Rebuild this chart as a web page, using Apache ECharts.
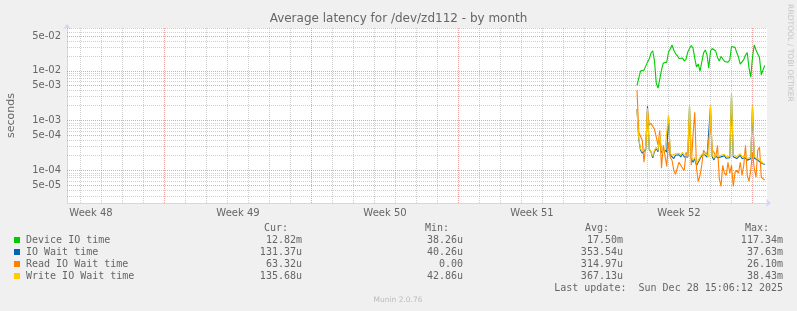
<!DOCTYPE html>
<html><head><meta charset="utf-8">
<script src="https://cdn.jsdelivr.net/npm/echarts@6/dist/echarts.min.js"></script>
<style>html,body{margin:0;padding:0;background:#f0f0f0}#c{width:797px;height:311px}</style>
</head><body><div id="c"></div>
<script>
const chartTitle = 'Average latency for /dev/zd112 - by month';
const seriesNames = ['Device IO time', 'IO Wait time', 'Read IO Wait time', 'Write IO Wait time'];
const seriesColors = ['#00cc00', '#0066b3', '#ff8000', '#ffcc00'];

// 2-hour samples starting Mon Dec 22 2025 12:00 (x axis in epoch ms)
const dataStart = Date.UTC(2025, 11, 22, 12, 0, 0);
const dataStepMs = 2 * 3600 * 1000;

const deviceIO = [5.07e-3,5.07e-3,9.85e-3,8.98e-3,1.03e-2,1.08e-2,1.49e-2,1.72e-2,2.27e-2,2.52e-2,
  1.565e-2,5.65e-3,4.48e-3,4.48e-3,1.03e-2,1.427e-2,1.46e-2,1.49e-2,2.38e-2,2.73e-2,
  3.29e-2,2.61e-2,2.22e-2,2.02e-2,1.76e-2,1.64e-2,1.80e-2,1.565e-2,1.72e-2,2.38e-2,
  2.80e-2,3.21e-2,2.86e-2,1.80e-2,1.185e-2,1.36e-2,9.85e-3,1.49e-2,2.27e-2,2.61e-2,
  2.10e-2,1.13e-2,2.49e-2,2.80e-2,2.93e-2,2.49e-2,1.84e-2,1.565e-2,1.95e-2,1.72e-2,
  1.54e-2,1.66e-2,1.49e-2,1.64e-2,3.07e-2,2.86e-2,2.95e-2,2.32e-2,1.88e-2,1.36e-2,
  1.49e-2,1.68e-2,2.07e-2,2.32e-2,1.13e-2,7.46e-3,1.88e-2,3.29e-2,2.61e-2,2.17e-2,
  1.84e-2,8.30e-3,8.07e-3,1.28e-2];

const ioWait = [1.69e-3,4.2e-4,2.55e-4,2.2e-4,2.05e-4,2.6e-4,1.94e-3,2.6e-4,2.35e-4,1.78e-4,
  2.4e-4,2.75e-4,2.35e-4,4.8e-4,2.3e-4,2.15e-4,2.55e-4,2.3e-4,1.2e-3,2.05e-4,
  1.87e-4,1.72e-4,2.0e-4,2.15e-4,2.05e-4,1.86e-4,2.15e-4,1.85e-4,1.78e-4,1.86e-4,
  1.9e-3,1.78e-4,1.45e-4,1.7e-4,1.25e-4,1.45e-4,1.7e-4,1.95e-4,2.15e-4,2.0e-4,
  1.83e-4,1.74e-4,1.9e-3,1.86e-4,1.62e-4,2.0e-4,1.78e-4,1.8e-4,1.86e-4,1.74e-4,
  1.95e-4,1.74e-4,1.6e-4,1.78e-4,3.3e-3,1.86e-4,2.0e-4,1.72e-4,1.86e-4,2.0e-4,
  1.72e-4,1.6e-4,1.78e-4,1.6e-4,1.46e-4,1.7e-4,1.9e-3,1.74e-4,1.82e-4,1.6e-4,
  1.55e-4,1.4e-4,1.28e-4,1.31e-4];

const readWait = [4.08e-3,5.82e-4,5.31e-4,4.02e-4,1.45e-4,3.19e-4,1.61e-3,8.05e-4,8.84e-4,9.26e-4,
  6.69e-4,4.62e-4,3.19e-4,6.39e-4,1.10e-4,3.19e-4,3.04e-4,1.20e-4,3.66e-4,1.83e-4,
  1.59e-4,1.00e-4,8.31e-5,7.93e-5,1.45e-4,1.45e-4,1.10e-4,1.00e-4,2.30e-4,1.83e-4,
  1.167e-3,1.26e-4,5.07e-4,1.47e-3,1.10e-4,6.00e-5,7.93e-5,1.26e-4,2.53e-4,2.53e-4,
  2.00e-4,1.91e-4,8.05e-4,2.53e-4,2.30e-4,1.83e-4,3.19e-4,6.90e-5,4.76e-5,1.26e-4,
  8.70e-5,7.93e-5,1.45e-4,8.70e-5,1.26e-4,4.76e-5,9.11e-5,1.00e-4,8.70e-5,1.45e-4,
  7.93e-5,1.26e-4,3.19e-4,7.93e-5,6.00e-5,1.00e-4,2.30e-4,1.10e-4,7.23e-5,2.53e-4,
  2.91e-4,7.23e-5,7.57e-5,6.33e-5];

const writeWait = [1.61e-3,4.41e-4,2.71e-4,2.36e-4,2.20e-4,2.77e-4,1.77e-3,2.77e-4,2.53e-4,1.91e-4,
  2.53e-4,2.91e-4,2.53e-4,5.07e-4,2.53e-4,2.30e-4,2.71e-4,2.53e-4,1.28e-3,2.20e-4,
  2.00e-4,1.87e-4,2.15e-4,2.30e-4,2.20e-4,2.00e-4,2.30e-4,2.00e-4,1.91e-4,2.00e-4,
  2.04e-3,1.91e-4,1.59e-4,1.83e-4,1.38e-4,1.59e-4,1.83e-4,2.10e-4,2.30e-4,2.15e-4,
  1.96e-4,1.87e-4,2.04e-3,2.00e-4,1.74e-4,2.15e-4,1.91e-4,1.96e-4,2.00e-4,1.87e-4,
  2.10e-4,1.87e-4,1.74e-4,1.91e-4,3.55e-3,2.00e-4,2.15e-4,1.87e-4,2.00e-4,2.15e-4,
  1.87e-4,1.74e-4,1.91e-4,1.74e-4,1.59e-4,1.83e-4,2.04e-3,1.87e-4,1.96e-4,1.74e-4,
  1.67e-4,1.52e-4,1.38e-4,1.36e-4];

const curVals = ['12.82m', '131.37u', '63.32u', '135.68u'];
const minVals = ['38.26u', '40.26u', '0.00', '42.86u'];
const avgVals = ['17.50m', '353.54u', '314.97u', '367.13u'];
const maxVals = ['117.34m', '37.63m', '26.10m', '38.43m'];
const columnHeaders = ['Cur:', 'Min:', 'Avg:', 'Max:'];
const lastUpdate = 'Last update:  Sun Dec 28 15:06:12 2025';
const footerText = 'Munin 2.0.76';
const sideText = 'RRDTOOL / TOBI OETIKER';
const yAxisName = 'seconds';

const weekLabels = ['Week 48', 'Week 49', 'Week 50', 'Week 51', 'Week 52'];
const weekCenters = [Date.UTC(2025,10,26,12), Date.UTC(2025,11,3,12), Date.UTC(2025,11,10,12), Date.UTC(2025,11,17,12), Date.UTC(2025,11,24,12)];

const yMajorTicks = [5e-2, 1e-2, 5e-3, 1e-3, 5e-4, 1e-4, 5e-5];
const yMajorLabels = ['5e-02', '1e-02', '5e-03', '1e-03', '5e-04', '1e-04', '5e-05'];
const yMinorTicks = [3e-5,4e-5,6e-5,7e-5,8e-5,9e-5,2e-4,3e-4,4e-4,6e-4,7e-4,8e-4,9e-4,
  2e-3,3e-3,4e-3,6e-3,7e-3,8e-3,9e-3,2e-2,3e-2,4e-2,6e-2,7e-2];

// time window of the month view (100 000 s per 3 px)
const xMin = Date.UTC(2025, 10, 25, 8, 34, 17);
const xMax = Date.UTC(2025, 11, 28, 16, 34, 17);
const yMin = 2.2e-5;
const yMax = 0.0723;

const DAY = 86400000;
const gridMinor = 'rgba(140,140,140,0.42)';
const gridMajor = 'rgba(215,70,70,0.5)';
const lg = Math.log10;

// grid lines: vertical on x (value axis), horizontal on the linear log10 helper axis (yAxisIndex 1)
const markData = [];
for (let t = Date.UTC(2025, 10, 26); t <= xMax; t += DAY) {
  const sunday = new Date(t).getUTCDay() === 0;
  markData.push({xAxis: t, label: {show: false},
    lineStyle: {color: sunday ? gridMajor : gridMinor, type: [1, 1], width: 1}});
}
yMinorTicks.forEach(v => markData.push({yAxis: lg(v), label: {show: false},
  lineStyle: {color: gridMinor, type: [1, 1], width: 1}}));
yMajorTicks.forEach(v => markData.push({yAxis: lg(v), label: {show: false},
  lineStyle: {color: gridMajor, type: [1, 1], width: 1}}));

function toPairs(arr) { return arr.map((v, i) => [dataStart + i * dataStepMs, v]); }
const allSeries = [deviceIO, ioWait, readWait, writeWait];

const series = [{
  type: 'line', name: '__grid', data: [], silent: true, z: 1, yAxisIndex: 1,
  markLine: {silent: true, z: 1, symbol: ['none', 'none'], animation: false, data: markData}
}].concat(allSeries.map((arr, i) => ({
  type: 'line', name: seriesNames[i], data: toPairs(arr), showSymbol: false, z: 2 + i, yAxisIndex: 0,
  color: seriesColors[i], itemStyle: {color: seriesColors[i]},
  lineStyle: {color: seriesColors[i], width: 1.1}, emphasis: {disabled: true}
})));

const graphic = [];
const colRight = [302, 463, 623, 783];
const rowY = [240, 252, 264, 276];
const colVals = [curVals, minVals, avgVals, maxVals];
const monoFont = '10px "DejaVu Sans Mono"';
columnHeaders.forEach((h, c) => {
  graphic.push({type: 'text', x: colRight[c] - 14, y: 228,
    style: {text: h, font: monoFont, fill: '#666', align: 'right', verticalAlign: 'middle'}});
  colVals[c].forEach((v, r) => graphic.push({type: 'text', x: colRight[c], y: rowY[r],
    style: {text: v, font: monoFont, fill: '#666', align: 'right', verticalAlign: 'middle'}}));
});
graphic.push({type: 'text', x: 783, y: 288,
  style: {text: lastUpdate, font: monoFont, fill: '#666', align: 'right', verticalAlign: 'middle'}});
graphic.push({type: 'text', x: 398, y: 300,
  style: {text: footerText, font: '7.5px "DejaVu Sans"', fill: '#bbb', align: 'center', verticalAlign: 'middle'}});
graphic.push({type: 'text', x: 790, y: 53, rotation: -Math.PI / 2,
  style: {text: sideText, font: '7.6px "DejaVu Sans"', fill: '#c4c4c4', align: 'center', verticalAlign: 'middle'}});

const axisCol = '#cfd6f8';
const majorLog = yMajorTicks.map(lg);
const option = {
  animation: false,
  backgroundColor: '#f0f0f0',
  textStyle: {fontFamily: 'DejaVu Sans'},
  title: {text: chartTitle, left: 'center', top: 13, padding: 0,
    textStyle: {fontFamily: 'DejaVu Sans', fontSize: 12, fontWeight: 'normal', color: '#666'}},
  grid: {left: 67, right: 30, top: 28, bottom: 108, show: true, backgroundColor: '#ffffff', borderWidth: 0,
    containLabel: false, outerBoundsMode: 'none'},
  xAxis: {type: 'value', min: xMin, max: xMax, scale: true,
    axisLine: {show: true, lineStyle: {color: axisCol, width: 1}, symbol: ['none', 'arrow'], symbolSize: [6, 5], symbolOffset: [0, 4]},
    axisTick: {show: false}, splitLine: {show: false},
    axisLabel: {customValues: weekCenters, formatter: v => weekLabels[weekCenters.indexOf(v)],
      fontFamily: 'DejaVu Sans', fontSize: 10, color: '#666', margin: 5, hideOverlap: false}},
  yAxis: [{type: 'log', logBase: 10, min: yMin, max: yMax,
    name: yAxisName, nameLocation: 'middle', nameGap: 50,
    nameTextStyle: {fontFamily: 'DejaVu Sans', fontSize: 11, color: '#666'},
    axisLine: {show: true, lineStyle: {color: axisCol, width: 1}, symbol: ['none', 'arrow'], symbolSize: [6, 5], symbolOffset: [0, 4]},
    axisTick: {show: false}, axisLabel: {show: false}, splitLine: {show: false}, minorSplitLine: {show: false}},
   {type: 'value', position: 'left', min: lg(yMin), max: lg(yMax), scale: true,
    axisLine: {show: false}, axisTick: {show: false}, splitLine: {show: false},
    axisLabel: {customValues: majorLog, margin: 6, fontFamily: 'DejaVu Sans', fontSize: 10, color: '#666', hideOverlap: false,
      formatter: v => { const i = majorLog.findIndex(m => Math.abs(m - v) < 1e-9); return i >= 0 ? yMajorLabels[i] : ''; }}}],
  legend: {orient: 'vertical', left: 14, top: 234, itemWidth: 6, itemHeight: 6, itemGap: 0, icon: 'rect',
    padding: 0, selectedMode: false, data: seriesNames,
    textStyle: {fontFamily: 'DejaVu Sans Mono', fontSize: 10, color: '#666', lineHeight: 12, padding: [0, 0, 0, 1]}},
  series: series,
  graphic: graphic
};
const chart = echarts.init(document.getElementById('c'), null, {renderer: 'canvas', width: 797, height: 311});
chart.setOption(option);
</script>
</body></html>
